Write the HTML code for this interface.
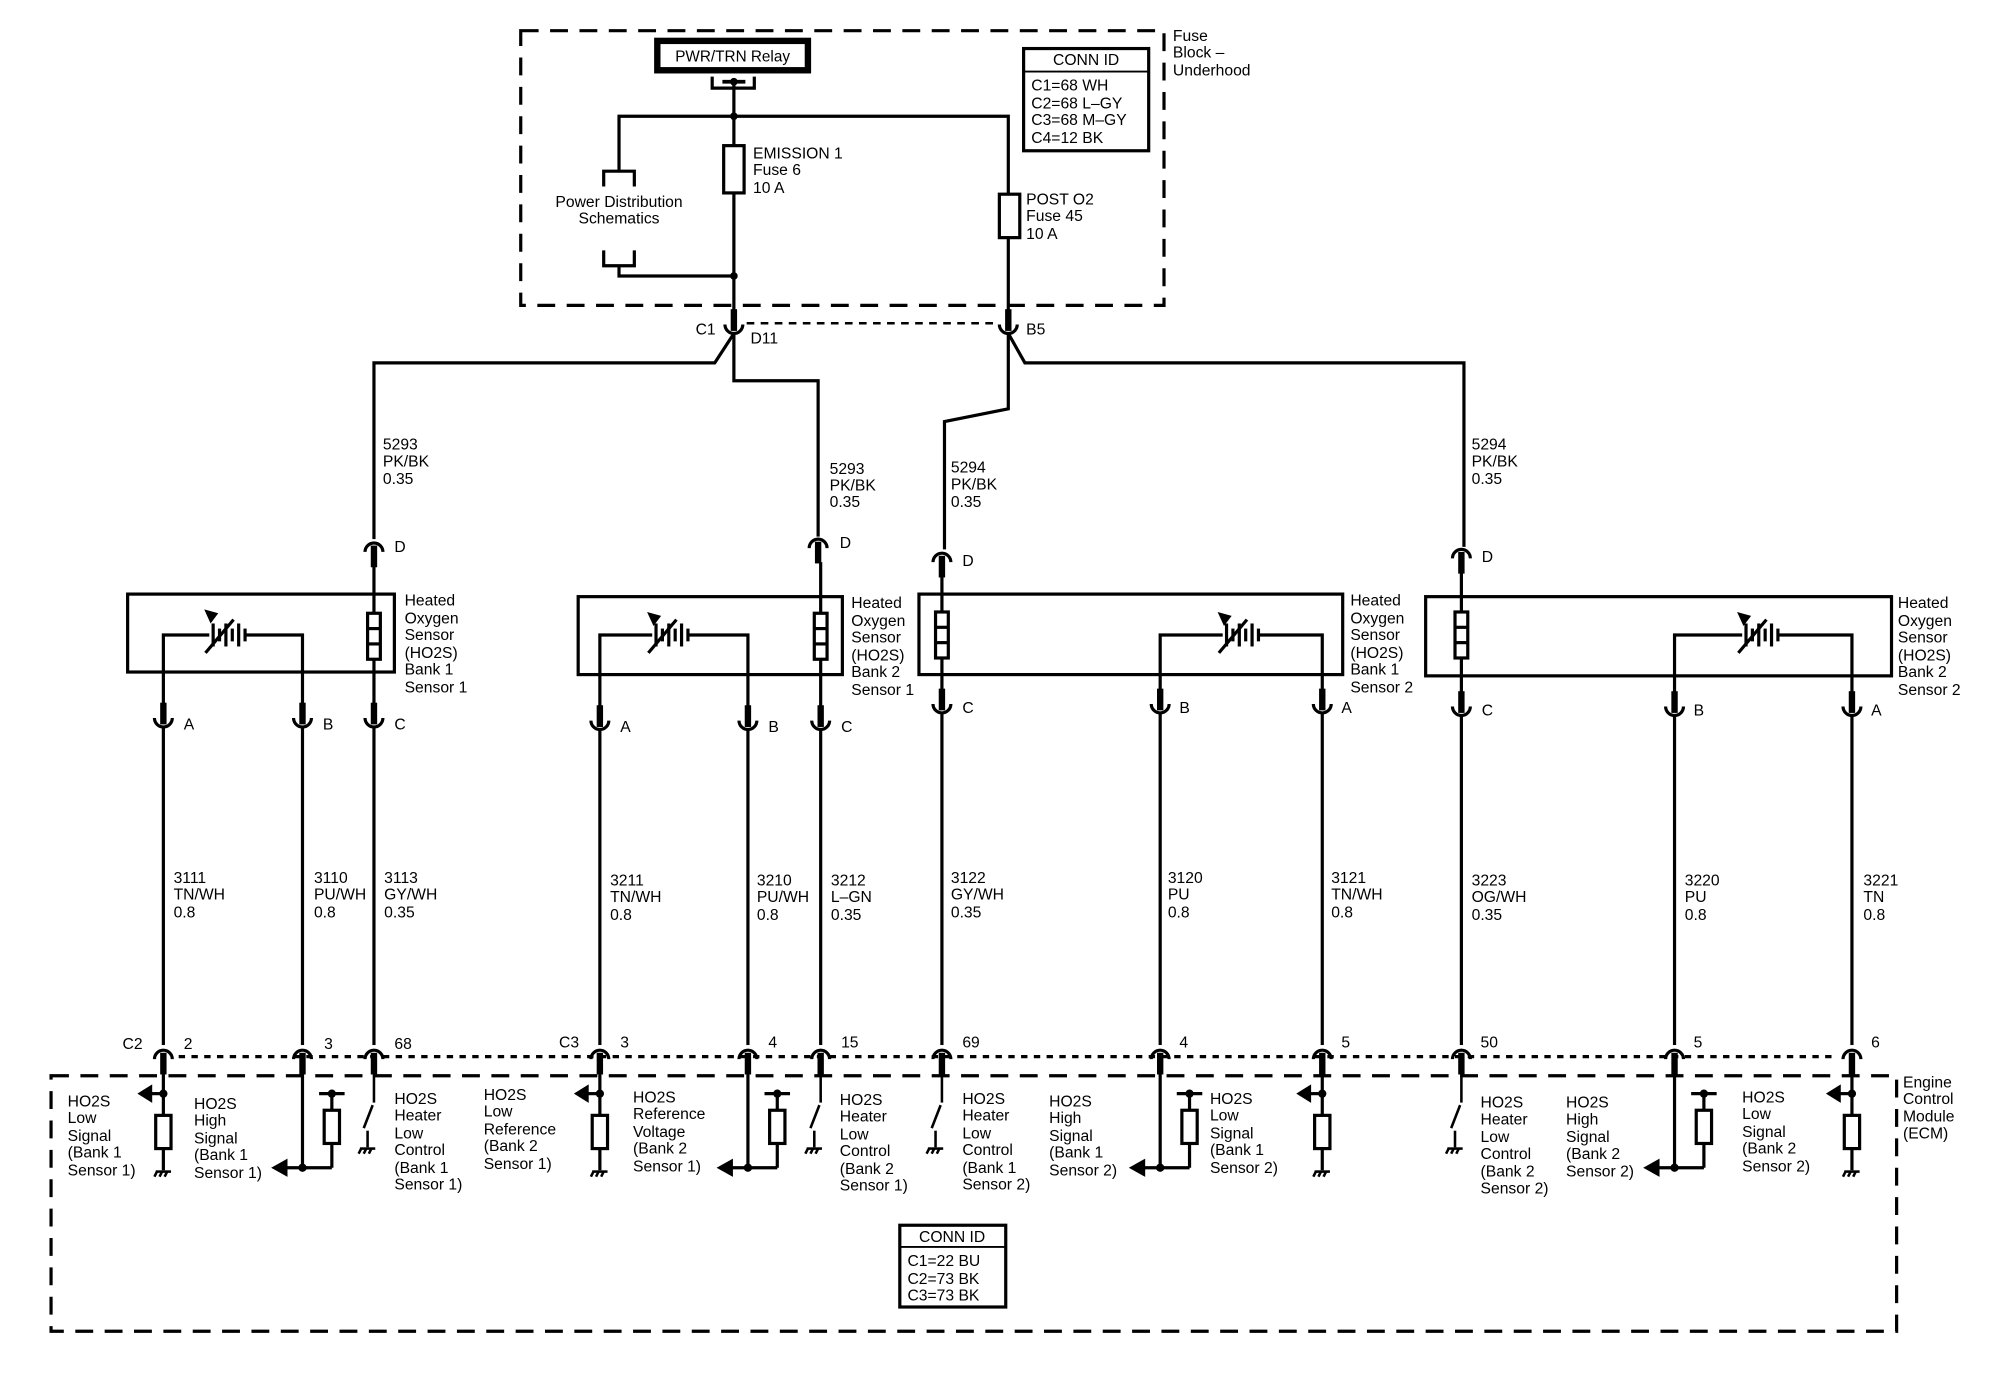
<!DOCTYPE html>
<html><head><meta charset="utf-8"><style>
html,body{margin:0;padding:0;background:#fff}
svg{display:block}
text{font-family:"Liberation Sans",Arial,sans-serif;font-size:12.3px;fill:#000}
</style></head><body>
<svg width="2000" height="1376" viewBox="0 0 1567 1077" preserveAspectRatio="none" xmlns="http://www.w3.org/2000/svg">
<defs>
<g id="cu"><line x1="0" y1="-16" x2="0" y2="1" stroke="#000" stroke-width="5"/><path d="M-7,-4 A7,7 0 0 0 7,-4" fill="none" stroke="#000" stroke-width="2.5"/></g>
<g id="cn"><line x1="0" y1="-1" x2="0" y2="16" stroke="#000" stroke-width="5"/><path d="M-7,4 A7,7 0 0 1 7,4" fill="none" stroke="#000" stroke-width="2.5"/></g>
<g id="gnd" stroke="#000" stroke-width="2"><line x1="-6" y1="0" x2="6" y2="0"/><line x1="-5" y1="0" x2="-7" y2="4"/><line x1="-1" y1="0" x2="-3" y2="4"/><line x1="3" y1="0" x2="1" y2="4"/></g>
<g id="heat" stroke="#000" fill="#fff" stroke-width="2.5"><rect x="-5" y="0" width="10" height="36"/><line x1="-5" y1="12" x2="5" y2="12"/><line x1="-5" y1="24" x2="5" y2="24"/></g>
<g id="cell" stroke="#000" stroke-width="2.5" fill="none"><line x1="-14" y1="-9" x2="-14" y2="9"/><line x1="-9" y1="-5" x2="-9" y2="5"/><line x1="-4" y1="-9" x2="-4" y2="9"/><line x1="1" y1="-5" x2="1" y2="5"/><line x1="6" y1="-9" x2="6" y2="9"/><line x1="11" y1="-5" x2="11" y2="5"/><line x1="-20" y1="14" x2="2" y2="-12"/></g>
<g id="lowsig" stroke="#000" stroke-width="2.5" fill="none"><line x1="0" y1="0" x2="0" y2="75"/><line x1="0" y1="15" x2="-12" y2="15"/><polygon points="-18,15 -10,10 -10,20" fill="#000"/><circle cx="0" cy="15" r="2" fill="#000"/><rect x="-6" y="32" width="12" height="26" fill="#fff"/></g>
<g id="hisig" stroke="#000" stroke-width="2.5" fill="none"><line x1="0" y1="0" x2="0" y2="73"/><line x1="0" y1="73" x2="-14" y2="73"/><polygon points="-22,73 -13,68 -13,78" fill="#000"/><line x1="0" y1="73" x2="23" y2="73"/><line x1="23" y1="73" x2="23" y2="15"/><line x1="13" y1="15" x2="33" y2="15"/><rect x="17" y="28" width="12" height="26" fill="#fff"/><circle cx="0" cy="73" r="2" fill="#000"/><circle cx="23" cy="15" r="2" fill="#000"/></g>
<g id="heater" stroke="#000" stroke-width="2" fill="none"><line x1="0" y1="0" x2="0" y2="22"/><line x1="-1" y1="24" x2="-8" y2="42"/><line x1="-5" y1="44" x2="-5" y2="57"/></g>
</defs>

<rect x="408" y="24" width="504" height="215" fill="none" stroke="#000" stroke-width="2.5" stroke-dasharray="14,9"/>
<text x="919" y="32">Fuse</text><text x="919" y="45">Block –</text><text x="919" y="59">Underhood</text>
<rect x="515" y="32" width="118" height="23" fill="#fff" stroke="#000" stroke-width="5"/>
<text x="574" y="48" text-anchor="middle" style="font-size:12px">PWR/TRN Relay</text>
<path d="M558,60 V69 H591 V60" fill="none" stroke="#000" stroke-width="2.5"/>
<line x1="566" y1="64" x2="584" y2="64" stroke="#000" stroke-width="3"/>
<g stroke="#000" stroke-width="2.5" fill="none">
<line x1="575" y1="64" x2="575" y2="245"/>
<polyline points="485,133 485,91 790,91 790,245"/>
<polyline points="485,208 485,216 575,216"/>
<path d="M473,146 V134 H497 V146"/><path d="M473,196 V208 H497 V196"/>
<rect x="567" y="114" width="16" height="37" fill="#fff"/>
<rect x="783" y="152" width="16" height="34" fill="#fff"/>
</g>
<circle cx="575" cy="91" r="3" fill="#000"/><circle cx="575" cy="216" r="3" fill="#000"/><circle cx="575" cy="64" r="3" fill="#000"/>
<text x="485" y="162" text-anchor="middle">Power Distribution</text><text x="485" y="175" text-anchor="middle">Schematics</text>
<text x="590" y="124">EMISSION 1</text><text x="590" y="137">Fuse 6</text><text x="590" y="151">10 A</text>
<text x="804" y="160">POST O2</text><text x="804" y="173">Fuse 45</text><text x="804" y="187">10 A</text>
<rect x="802" y="38" width="98" height="80" fill="none" stroke="#000" stroke-width="2.5"/>
<line x1="802" y1="56" x2="900" y2="56" stroke="#000" stroke-width="1.5"/>
<text x="851" y="51" text-anchor="middle">CONN ID</text>
<text x="808" y="71">C1=68 WH</text><text x="808" y="85">C2=68 L–GY</text><text x="808" y="98">C3=68 M–GY</text><text x="808" y="112">C4=12 BK</text>

<use href="#cu" x="575" y="258"/><use href="#cu" x="790" y="258"/>
<line x1="585" y1="253" x2="780" y2="253" stroke="#000" stroke-width="2" stroke-dasharray="6,5"/>
<text x="545" y="262">C1</text><text x="588" y="269">D11</text><text x="804" y="262">B5</text>

<g stroke="#000" stroke-width="2.5" fill="none">
<polyline points="575,261 560,284 293,284 293,422"/>
<polyline points="575,261 575,298 641,298 641,420"/>
<polyline points="790,261 790,320 740,330 740,430"/>
<polyline points="790,261 803,284 1147,284 1147,428"/>
</g>
<text x="300" y="352">5293</text><text x="300" y="365">PK/BK</text><text x="300" y="379">0.35</text>
<text x="650" y="371">5293</text><text x="650" y="384">PK/BK</text><text x="650" y="397">0.35</text>
<text x="745" y="370">5294</text><text x="745" y="383">PK/BK</text><text x="745" y="397">0.35</text>
<text x="1153" y="352">5294</text><text x="1153" y="365">PK/BK</text><text x="1153" y="379">0.35</text>

<use href="#cn" x="293" y="428"/><text x="309" y="432">D</text>
<use href="#cn" x="641" y="425"/><text x="658" y="429">D</text>
<use href="#cn" x="738" y="436"/><text x="754" y="443">D</text>
<use href="#cn" x="1145" y="433"/><text x="1161" y="440">D</text>

<g stroke="#000" stroke-width="2.5" fill="none">
<rect x="100" y="465" width="209" height="61"/>
<rect x="453" y="467" width="207" height="61"/>
<rect x="720" y="465" width="332" height="63"/>
<rect x="1117" y="467" width="365" height="62"/>
<line x1="293" y1="440" x2="293" y2="560"/>
<line x1="643" y1="440" x2="643" y2="560"/>
<line x1="738" y1="448" x2="738" y2="548"/>
<line x1="1145" y1="446" x2="1145" y2="550"/>
<polyline points="128,560 128,497 164,497"/><polyline points="193,497 237,497 237,560"/>
<polyline points="470,560 470,497 511,497"/><polyline points="540,497 586,497 586,560"/>
<polyline points="909,550 909,497 958,497"/><polyline points="987,497 1036,497 1036,550"/>
<polyline points="1312,552 1312,497 1365,497"/><polyline points="1394,497 1451,497 1451,552"/>
</g>
<use href="#heat" x="293" y="480"/><use href="#heat" x="643" y="480"/><use href="#heat" x="738" y="479"/><use href="#heat" x="1145" y="479"/>
<use href="#cell" x="181" y="497"/><use href="#cell" x="528" y="497"/><use href="#cell" x="975" y="497"/><use href="#cell" x="1382" y="497"/>
<polygon points="160,477 171,480 165,488" fill="#000"/>
<polygon points="507,479 518,482 512,490" fill="#000"/>
<polygon points="954,479 965,482 959,490" fill="#000"/>
<polygon points="1361,479 1372,482 1366,490" fill="#000"/>
<g><text x="317" y="474">Heated</text><text x="317" y="488">Oxygen</text><text x="317" y="501">Sensor</text><text x="317" y="515">(HO2S)</text><text x="317" y="528">Bank 1</text><text x="317" y="542">Sensor 1</text></g>
<g><text x="667" y="476">Heated</text><text x="667" y="490">Oxygen</text><text x="667" y="503">Sensor</text><text x="667" y="517">(HO2S)</text><text x="667" y="530">Bank 2</text><text x="667" y="544">Sensor 1</text></g>
<g><text x="1058" y="474">Heated</text><text x="1058" y="488">Oxygen</text><text x="1058" y="501">Sensor</text><text x="1058" y="515">(HO2S)</text><text x="1058" y="528">Bank 1</text><text x="1058" y="542">Sensor 2</text></g>
<g><text x="1487" y="476">Heated</text><text x="1487" y="490">Oxygen</text><text x="1487" y="503">Sensor</text><text x="1487" y="517">(HO2S)</text><text x="1487" y="530">Bank 2</text><text x="1487" y="544">Sensor 2</text></g>

<use href="#cu" x="128" y="566"/><text x="144" y="571">A</text>
<use href="#cu" x="237" y="566"/><text x="253" y="571">B</text>
<use href="#cu" x="293" y="566"/><text x="309" y="571">C</text>
<use href="#cu" x="470" y="568"/><text x="486" y="573">A</text>
<use href="#cu" x="586" y="568"/><text x="602" y="573">B</text>
<use href="#cu" x="643" y="568"/><text x="659" y="573">C</text>
<use href="#cu" x="738" y="555"/><text x="754" y="558">C</text>
<use href="#cu" x="909" y="555"/><text x="924" y="558">B</text>
<use href="#cu" x="1036" y="555"/><text x="1051" y="558">A</text>
<use href="#cu" x="1145" y="557"/><text x="1161" y="560">C</text>
<use href="#cu" x="1312" y="557"/><text x="1327" y="560">B</text>
<use href="#cu" x="1451" y="557"/><text x="1466" y="560">A</text>

<g stroke="#000" stroke-width="2.5">
<line x1="128" y1="569" x2="128" y2="818"/><line x1="237" y1="569" x2="237" y2="818"/><line x1="293" y1="569" x2="293" y2="818"/>
<line x1="470" y1="571" x2="470" y2="818"/><line x1="586" y1="571" x2="586" y2="818"/><line x1="643" y1="571" x2="643" y2="818"/>
<line x1="738" y1="558" x2="738" y2="818"/><line x1="909" y1="558" x2="909" y2="818"/><line x1="1036" y1="558" x2="1036" y2="818"/>
<line x1="1145" y1="560" x2="1145" y2="818"/><line x1="1312" y1="560" x2="1312" y2="818"/><line x1="1451" y1="560" x2="1451" y2="818"/>
</g>
<g>
<text x="136" y="691">3111</text><text x="136" y="704">TN/WH</text><text x="136" y="718">0.8</text>
<text x="246" y="691">3110</text><text x="246" y="704">PU/WH</text><text x="246" y="718">0.8</text>
<text x="301" y="691">3113</text><text x="301" y="704">GY/WH</text><text x="301" y="718">0.35</text>
<text x="478" y="693">3211</text><text x="478" y="706">TN/WH</text><text x="478" y="720">0.8</text>
<text x="593" y="693">3210</text><text x="593" y="706">PU/WH</text><text x="593" y="720">0.8</text>
<text x="651" y="693">3212</text><text x="651" y="706">L–GN</text><text x="651" y="720">0.35</text>
<text x="745" y="691">3122</text><text x="745" y="704">GY/WH</text><text x="745" y="718">0.35</text>
<text x="915" y="691">3120</text><text x="915" y="704">PU</text><text x="915" y="718">0.8</text>
<text x="1043" y="691">3121</text><text x="1043" y="704">TN/WH</text><text x="1043" y="718">0.8</text>
<text x="1153" y="693">3223</text><text x="1153" y="706">OG/WH</text><text x="1153" y="720">0.35</text>
<text x="1320" y="693">3220</text><text x="1320" y="706">PU</text><text x="1320" y="720">0.8</text>
<text x="1460" y="693">3221</text><text x="1460" y="706">TN</text><text x="1460" y="720">0.8</text>
</g>

<line x1="140" y1="827" x2="1440" y2="827" stroke="#000" stroke-width="2.5" stroke-dasharray="5,5"/>
<rect x="40" y="842" width="1446" height="200" fill="none" stroke="#000" stroke-width="2.5" stroke-dasharray="14,9"/>
<g fill="#fff"><rect x="119" y="818" width="18" height="6"/><rect x="228" y="818" width="18" height="6"/><rect x="284" y="818" width="18" height="6"/><rect x="461" y="818" width="18" height="6"/><rect x="577" y="818" width="18" height="6"/><rect x="634" y="818" width="18" height="6"/><rect x="729" y="818" width="18" height="6"/><rect x="900" y="818" width="18" height="6"/><rect x="1027" y="818" width="18" height="6"/><rect x="1136" y="818" width="18" height="6"/><rect x="1303" y="818" width="18" height="6"/><rect x="1442" y="818" width="18" height="6"/></g>
<use href="#cn" x="128" y="825"/><use href="#cn" x="237" y="825"/><use href="#cn" x="293" y="825"/>
<use href="#cn" x="470" y="825"/><use href="#cn" x="586" y="825"/><use href="#cn" x="643" y="825"/>
<use href="#cn" x="738" y="825"/><use href="#cn" x="909" y="825"/><use href="#cn" x="1036" y="825"/>
<use href="#cn" x="1145" y="825"/><use href="#cn" x="1312" y="825"/><use href="#cn" x="1451" y="825"/>
<text x="96" y="821">C2</text><text x="144" y="821">2</text><text x="254" y="821">3</text><text x="309" y="821">68</text>
<text x="438" y="820">C3</text><text x="486" y="820">3</text><text x="602" y="820">4</text><text x="659" y="820">15</text>
<text x="754" y="820">69</text><text x="924" y="820">4</text><text x="1051" y="820">5</text>
<text x="1160" y="820">50</text><text x="1327" y="820">5</text><text x="1466" y="820">6</text>
<text x="1491" y="851">Engine</text><text x="1491" y="864">Control</text><text x="1491" y="878">Module</text><text x="1491" y="891">(ECM)</text>

<use href="#lowsig" x="128" y="841"/><use href="#gnd" x="128" y="917"/>
<use href="#lowsig" x="470" y="841"/><use href="#gnd" x="470" y="917"/>
<use href="#lowsig" x="1036" y="841"/><use href="#gnd" x="1036" y="917"/>
<use href="#lowsig" x="1451" y="841"/><use href="#gnd" x="1451" y="917"/>
<use href="#hisig" x="237" y="841"/><use href="#hisig" x="586" y="841"/><use href="#hisig" x="909" y="841"/><use href="#hisig" x="1312" y="841"/>
<use href="#heater" x="293" y="841"/><use href="#gnd" x="288" y="899"/>
<use href="#heater" x="643" y="841"/><use href="#gnd" x="638" y="899"/>
<use href="#heater" x="738" y="841"/><use href="#gnd" x="733" y="899"/>
<use href="#heater" x="1145" y="841"/><use href="#gnd" x="1140" y="899"/>

<g><text x="53" y="866">HO2S</text><text x="53" y="879">Low</text><text x="53" y="893">Signal</text><text x="53" y="906">(Bank 1</text><text x="53" y="920">Sensor 1)</text></g>
<g><text x="152" y="868">HO2S</text><text x="152" y="881">High</text><text x="152" y="895">Signal</text><text x="152" y="908">(Bank 1</text><text x="152" y="922">Sensor 1)</text></g>
<g><text x="309" y="864">HO2S</text><text x="309" y="877">Heater</text><text x="309" y="891">Low</text><text x="309" y="904">Control</text><text x="309" y="918">(Bank 1</text><text x="309" y="931">Sensor 1)</text></g>
<g><text x="379" y="861">HO2S</text><text x="379" y="874">Low</text><text x="379" y="888">Reference</text><text x="379" y="901">(Bank 2</text><text x="379" y="915">Sensor 1)</text></g>
<g><text x="496" y="863">HO2S</text><text x="496" y="876">Reference</text><text x="496" y="890">Voltage</text><text x="496" y="903">(Bank 2</text><text x="496" y="917">Sensor 1)</text></g>
<g><text x="658" y="865">HO2S</text><text x="658" y="878">Heater</text><text x="658" y="892">Low</text><text x="658" y="905">Control</text><text x="658" y="919">(Bank 2</text><text x="658" y="932">Sensor 1)</text></g>
<g><text x="754" y="864">HO2S</text><text x="754" y="877">Heater</text><text x="754" y="891">Low</text><text x="754" y="904">Control</text><text x="754" y="918">(Bank 1</text><text x="754" y="931">Sensor 2)</text></g>
<g><text x="822" y="866">HO2S</text><text x="822" y="879">High</text><text x="822" y="893">Signal</text><text x="822" y="906">(Bank 1</text><text x="822" y="920">Sensor 2)</text></g>
<g><text x="948" y="864">HO2S</text><text x="948" y="877">Low</text><text x="948" y="891">Signal</text><text x="948" y="904">(Bank 1</text><text x="948" y="918">Sensor 2)</text></g>
<g><text x="1160" y="867">HO2S</text><text x="1160" y="880">Heater</text><text x="1160" y="894">Low</text><text x="1160" y="907">Control</text><text x="1160" y="921">(Bank 2</text><text x="1160" y="934">Sensor 2)</text></g>
<g><text x="1227" y="867">HO2S</text><text x="1227" y="880">High</text><text x="1227" y="894">Signal</text><text x="1227" y="907">(Bank 2</text><text x="1227" y="921">Sensor 2)</text></g>
<g><text x="1365" y="863">HO2S</text><text x="1365" y="876">Low</text><text x="1365" y="890">Signal</text><text x="1365" y="903">(Bank 2</text><text x="1365" y="917">Sensor 2)</text></g>

<rect x="705" y="959" width="83" height="64" fill="none" stroke="#000" stroke-width="2.5"/>
<line x1="705" y1="976" x2="788" y2="976" stroke="#000" stroke-width="1.5"/>
<text x="746" y="972" text-anchor="middle">CONN ID</text>
<text x="711" y="991">C1=22 BU</text><text x="711" y="1005">C2=73 BK</text><text x="711" y="1018">C3=73 BK</text>
</svg>
</body></html>
